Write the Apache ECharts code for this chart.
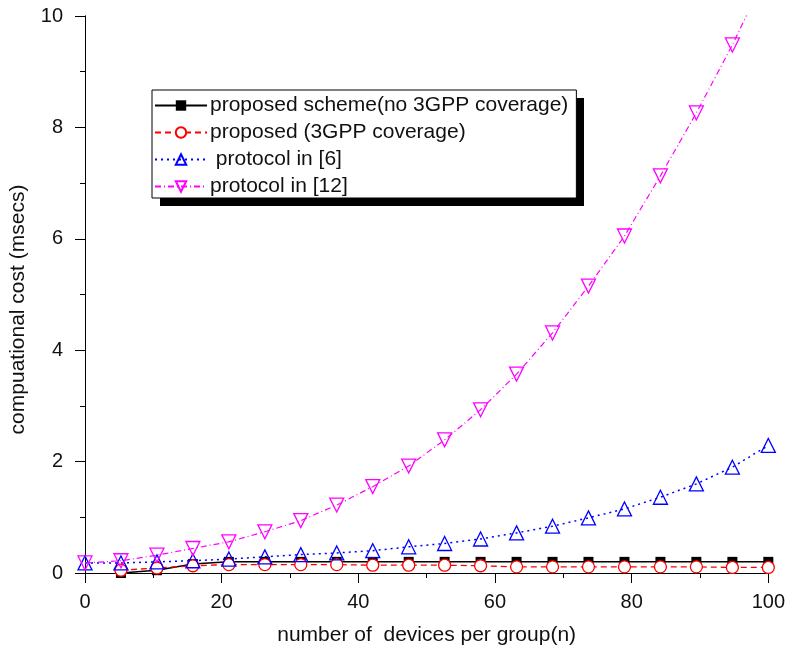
<!DOCTYPE html>
<html>
<head>
<meta charset="utf-8">
<script src="https://cdn.jsdelivr.net/npm/echarts@6/dist/echarts.min.js"></script>
<style>
  html, body { margin: 0; padding: 0; background: #fff; }
  #charts { width: 788px; height: 651px; }
</style>
</head>
<body>
<div id="charts"></div>
<script>
// devices per group (n)
var nList = [0, 5.26, 10.53, 15.79, 21.05, 26.32, 31.58, 36.84, 42.11, 47.37,
  52.63, 57.89, 63.16, 68.42, 73.68, 78.95, 84.21, 89.47, 94.74, 100];
// computational cost (msecs)
var noCoverage = [null, 0.0, 0.05, 0.16, 0.2, 0.2, 0.2, 0.2, 0.2, 0.2,
  0.2, 0.2, 0.2, 0.2, 0.2, 0.2, 0.2, 0.2, 0.2, 0.2];
var withCoverage = [null, 0.05, 0.09, 0.13, 0.15, 0.15, 0.15, 0.15, 0.14, 0.14,
  0.14, 0.13, 0.11, 0.11, 0.11, 0.11, 0.11, 0.11, 0.1, 0.1];
var protocol6 = [0.18, 0.18, 0.2, 0.22, 0.25, 0.29, 0.33, 0.36, 0.4, 0.47,
  0.53, 0.61, 0.72, 0.84, 0.99, 1.15, 1.36, 1.6, 1.9, 2.29];
var protocol12 = [0.18, 0.22, 0.32, 0.44, 0.56, 0.74, 0.94, 1.22, 1.55, 1.92,
  2.39, 2.93, 3.57, 4.31, 5.15, 6.05, 7.13, 8.26, 9.48, 10.83];
var seriesNames = ['proposed scheme(no 3GPP coverage)', 'proposed (3GPP coverage)',
  ' protocol in [6]', 'protocol in [12]'];

function pairs(vals) {
  var out = [];
  for (var i = 0; i < nList.length; i++) {
    out.push([nList[i], vals[i]]);
  }
  return out;
}

var myChart = echarts.init(document.getElementById('charts'));
var font = 'Liberation Sans, Arial, sans-serif';
var txt = '#111';

var option = {
  animation: false,
  backgroundColor: '#fff',
  textStyle: { fontFamily: font },
  grid: { left: 82, right: 18, top: 16, bottom: 78 },
  // drop shadow of the legend box
  graphic: [
    {
      type: 'rect', z: 3,
      shape: { x: 160, y: 98, width: 424, height: 108 },
      style: { fill: '#000' }
    }
  ],
  legend: {
    orient: 'vertical',
    left: 152,
    top: 90,
    z: 5,
    padding: [5, 8, 1, 2],
    itemGap: 6,
    itemWidth: 52,
    itemHeight: 13,
    backgroundColor: '#fff',
    borderColor: '#000',
    borderWidth: 1,
    textStyle: { fontSize: 21, color: txt, fontFamily: font, padding: [0, 0, 0, -2] },
    data: seriesNames
  },
  xAxis: [
    {
      type: 'value', position: 'bottom', min: 0, max: 100, interval: 20,
      name: 'number of  devices per group(n)',
      nameLocation: 'middle', nameGap: 52,
      nameTextStyle: { fontSize: 21, color: txt },
      axisLine: { lineStyle: { color: '#000', width: 1 } },
      axisTick: { inside: false, length: 10, lineStyle: { color: '#000' } },
      minorTick: { show: true, splitNumber: 2, length: 5, lineStyle: { color: '#000' } },
      axisLabel: { fontSize: 20, color: txt, margin: 19 },
      splitLine: { show: false }
    },
    {
      type: 'value', position: 'top', min: 0, max: 100, interval: 20,
      axisLine: { lineStyle: { color: '#000', width: 1 } },
      axisTick: { inside: true, length: 10, lineStyle: { color: '#000' } },
      minorTick: { show: true, splitNumber: 2, length: 5, lineStyle: { color: '#000' } },
      axisLabel: { show: false },
      splitLine: { show: false }
    }
  ],
  yAxis: [
    {
      type: 'value', position: 'left', min: 0, max: 10, interval: 2,
      name: 'compuational cost (msecs)',
      nameLocation: 'middle', nameGap: 56,
      nameTextStyle: { fontSize: 21, color: txt, padding: [0, 30, 0, 0] },
      axisLine: { show: true, lineStyle: { color: '#000', width: 1 } },
      axisTick: { show: true, inside: false, length: 10, lineStyle: { color: '#000' } },
      minorTick: { show: true, splitNumber: 2, length: 5, lineStyle: { color: '#000' } },
      axisLabel: { fontSize: 20, color: txt, margin: 22 },
      splitLine: { show: false }
    },
    {
      type: 'value', position: 'right', min: 0, max: 10, interval: 2,
      axisLine: { show: true, lineStyle: { color: '#000', width: 1 } },
      axisTick: { show: true, inside: true, length: 10, lineStyle: { color: '#000' } },
      minorTick: { show: true, splitNumber: 2, length: 5, lineStyle: { color: '#000' } },
      axisLabel: { show: false },
      splitLine: { show: false }
    }
  ],
  series: [
    {
      name: seriesNames[0],
      type: 'line',
      data: pairs(noCoverage),
      symbol: 'rect',
      symbolSize: 10,
      itemStyle: { color: '#000' },
      lineStyle: { color: '#000', width: 1.5, type: 'solid' }
    },
    {
      name: seriesNames[1],
      type: 'line',
      data: pairs(withCoverage),
      symbol: 'circle',
      symbolSize: 12,
      itemStyle: { color: '#fff', borderColor: '#ff0000', borderWidth: 1.3 },
      lineStyle: { color: '#ff0000', width: 1.3, type: [6, 4] }
    },
    {
      name: seriesNames[2],
      type: 'line',
      data: pairs(protocol6),
      symbol: 'triangle',
      symbolSize: 14,
      itemStyle: { color: 'rgba(0,0,0,0)', borderColor: '#0000ff', borderWidth: 1.3 },
      lineStyle: { color: '#0000ff', width: 1.5, type: [2, 4] }
    },
    {
      name: seriesNames[3],
      type: 'line',
      data: pairs(protocol12),
      symbol: 'triangle',
      symbolRotate: 180,
      symbolSize: 14,
      itemStyle: { color: 'rgba(0,0,0,0)', borderColor: '#ff00ff', borderWidth: 1.3 },
      lineStyle: { color: '#ff00ff', width: 1.2, type: [6, 3, 1, 3] }
    }
  ]
};
myChart.setOption(option);
</script>
</body>
</html>
